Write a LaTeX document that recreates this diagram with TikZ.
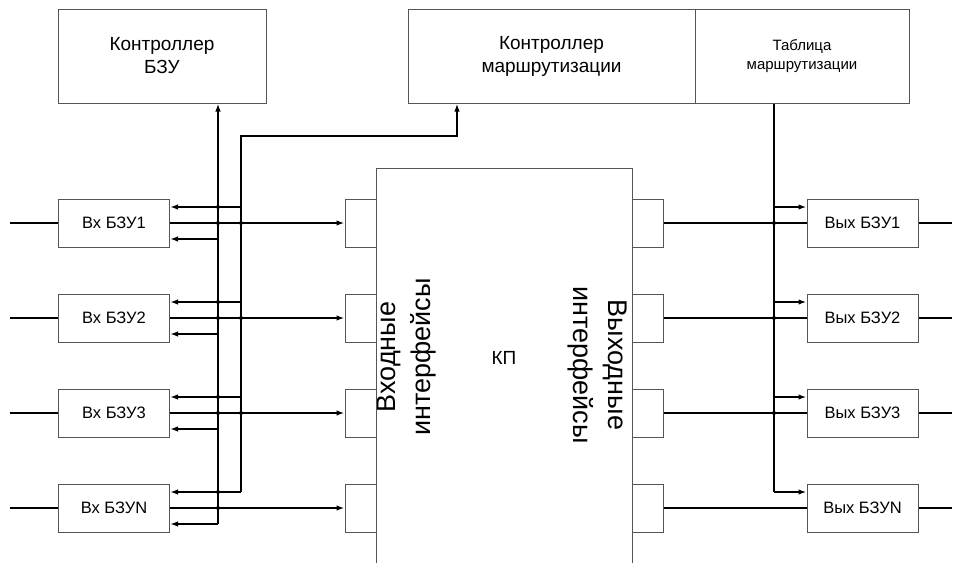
\documentclass[tikz,border=0pt]{standalone}
\usepackage{fontspec}
\setmainfont{Liberation Sans}
\usetikzlibrary{arrows.meta,calc}
\definecolor{boxgray}{HTML}{555555}
\begin{document}
\begin{tikzpicture}[x=1pt,y=-1pt,
  box/.style={draw=boxgray,line width=1pt,inner sep=0pt,align=center},
  bigbox/.style={box,minimum height=94pt,font=\fontsize{19}{23}\selectfont},
  smallbox/.style={box,minimum width=111pt,minimum height=48pt,font=\fontsize{16.5}{19}\selectfont},
  portbox/.style={box,minimum width=31pt,minimum height=48pt},
  conn/.style={draw=black,line width=1.6pt},
  arr/.style={conn,-{Latex[length=8pt,width=5.5pt]}},
  jdot/.style={circle,fill=black,inner sep=0pt,minimum size=4pt},
  vtext/.style={align=center,font=\fontsize{27}{35}\selectfont}
]
\useasboundingbox[fill=white] (0,0) rectangle (953,563);

% top boxes
\node[bigbox,minimum width=208pt] (ctrlB) at (162,56) {Контроллер\\БЗУ};
\node[bigbox,minimum width=287pt] (ctrlR) at (551.5,56) {Контроллер\\маршрутизации};
\node[box,minimum width=214pt,minimum height=94pt,font=\fontsize{15}{19}\selectfont] (tab) at (802,56) {Таблица\\маршрутизации};

% switch fabric
\draw[draw=boxgray,line width=1pt] (376,563) -- (376,168) -- (632,168) -- (632,563);
\node[font=\fontsize{19}{22}\selectfont] (kp) at (504,358) {КП};
\node[vtext,rotate=90] (inif) at (407,357) {Входные\\интерфейсы};
\node[vtext,rotate=-90] (outif) at (597,365) {Выходные\\интерфейсы};

% rows
\foreach \n/\y in {1/223,2/318,3/413,N/508} {
  \node[smallbox] (in\n) at (114,\y) {Вх БЗУ\n};
  \node[portbox] (pl\n) at (360.5,\y) {};
  \node[portbox] (pr\n) at (647.5,\y) {};
  \node[smallbox] (out\n) at (862.5,\y) {Вых БЗУ\n};
  \coordinate (l\n) at (10,\y);
  \coordinate (r\n) at (952,\y);
  \coordinate (lo\n) at (218,\y+16);
  \coordinate (up\n) at (241,\y-16);
  \coordinate (ru\n) at (774,\y-16);
  \draw[conn] (l\n) -- (in\n);
  \draw[conn] (out\n) -- (r\n);
  \draw[arr] (in\n) -- (pl\n);
  \draw[conn] (pr\n) -- (out\n);
  \draw[arr] (lo\n) -- (lo\n -| in\n.east);
  \draw[arr] (up\n) -- (up\n -| in\n.east);
  \draw[arr] (ru\n) -- (ru\n -| out\n.west);
  \node[jdot] at (218,\y-16) {};
}

% buses
\coordinate (bturn) at (241,136);
\coordinate (bturn2) at (457,136);
\draw[arr] (loN) -- (ctrlB.south -| loN);
\draw[arr] (upN) -- (bturn) -- (bturn2) -- (ctrlR.south -| bturn2);
\draw[conn] (tab.south -| ru1) -- (ruN);

% junction dots
\foreach \y in {223,318,413} {
  \node[jdot] at (218,\y) {};
  \node[jdot] at (241,\y) {};
  \node[jdot] at (774,\y) {};
}
\node[jdot] at (218,508) {};
\end{tikzpicture}
\end{document}
